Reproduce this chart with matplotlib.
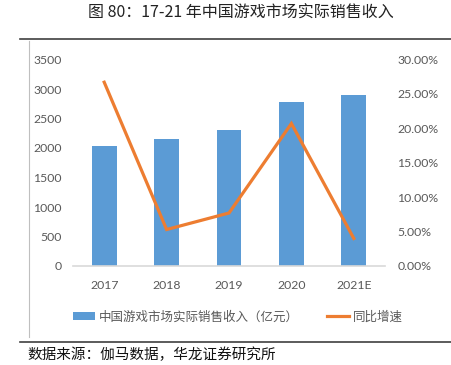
import matplotlib
matplotlib.use('Agg')
import matplotlib.pyplot as plt
from matplotlib.lines import Line2D
from matplotlib.patches import Patch
from matplotlib.ticker import FuncFormatter, MultipleLocator

plt.rcParams['font.family'] = ['Noto Sans CJK SC', 'DejaVu Sans']

# 数据
years = ['2017', '2018', '2019', '2020', '2021E']
revenue = [2036.1, 2144.4, 2308.8, 2786.9, 2895.0]    # 亿元
growth = [0.267, 0.053, 0.077, 0.207, 0.040]          # 同比增速

title = '图 80：17-21 年中国游戏市场实际销售收入'
bar_label = '中国游戏市场实际销售收入（亿元）'
line_label = '同比增速'
source = '数据来源：伽马数据，华龙证券研究所'

BLUE = '#5B9BD5'
ORANGE = '#ED7D31'
GRAY = '#595959'
W, H = 451, 365

fig = plt.figure(figsize=(W / 100, H / 100), dpi=100)

ax = fig.add_axes([73 / W, 1 - 266 / H, 312 / W, 206.5 / H])
ax2 = ax.twinx()

x = range(len(years))
ax.bar(x, revenue, width=0.4, color=BLUE, zorder=2)
ax2.plot(x, growth, color=ORANGE, lw=2.3, solid_joinstyle='miter', zorder=3)

ax.set_xlim(-0.5, len(years) - 0.5)
ax.set_ylim(0, 3500)
ax.yaxis.set_major_locator(MultipleLocator(500))
ax2.set_ylim(0, 0.30)
ax2.yaxis.set_major_locator(MultipleLocator(0.05))
ax2.yaxis.set_major_formatter(FuncFormatter(lambda v, _: f'{v * 100:.2f}%'))
ax.set_xticks(list(x))
ax.set_xticklabels(years)

tick_font = ['Lato', 'DejaVu Sans']
for a in (ax, ax2):
    for s in a.spines.values():
        s.set_visible(False)
    a.tick_params(length=0, labelsize=8.8, labelcolor=GRAY)
    for lab in a.get_xticklabels() + a.get_yticklabels():
        lab.set_family(tick_font)
ax.spines['bottom'].set_visible(True)
ax.spines['bottom'].set_color('#D9D9D9')
ax.spines['bottom'].set_linewidth(1.2)
ax.tick_params(axis='y', pad=8)
ax.tick_params(axis='x', pad=10)
ax2.tick_params(axis='y', pad=9)

handles = [Patch(facecolor=BLUE, edgecolor='none'),
           Line2D([0], [0], color=ORANGE, lw=2.3)]
fig.legend(handles, [bar_label, line_label], loc='center left',
           bbox_to_anchor=(73 / W, 1 - 317 / H), ncol=2, frameon=False,
           fontsize=9, labelcolor=GRAY, borderpad=0, borderaxespad=0,
           handlelength=1.75, handleheight=0.55, handletextpad=0.3,
           columnspacing=2.3)

# 标题与来源
fig.text(241 / W, 1 - 13 / H, title, ha='center', va='center', fontsize=11.5, color='#222222')
fig.add_artist(Line2D([20 / W, 1], [1 - 39 / H] * 2, color='#404040', lw=1.2))
fig.add_artist(Line2D([29 / W] * 2, [1 - 41 / H, 1 - 337 / H], color='#BFBFBF', lw=0.8))
fig.add_artist(Line2D([20 / W, 1], [1 - 342 / H] * 2, color='#404040', lw=1.2))
fig.text(27 / W, 1 - 348 / H, source, ha='left', va='top', fontsize=10.5, color='#111111')

fig.savefig('out.png', dpi=100)
